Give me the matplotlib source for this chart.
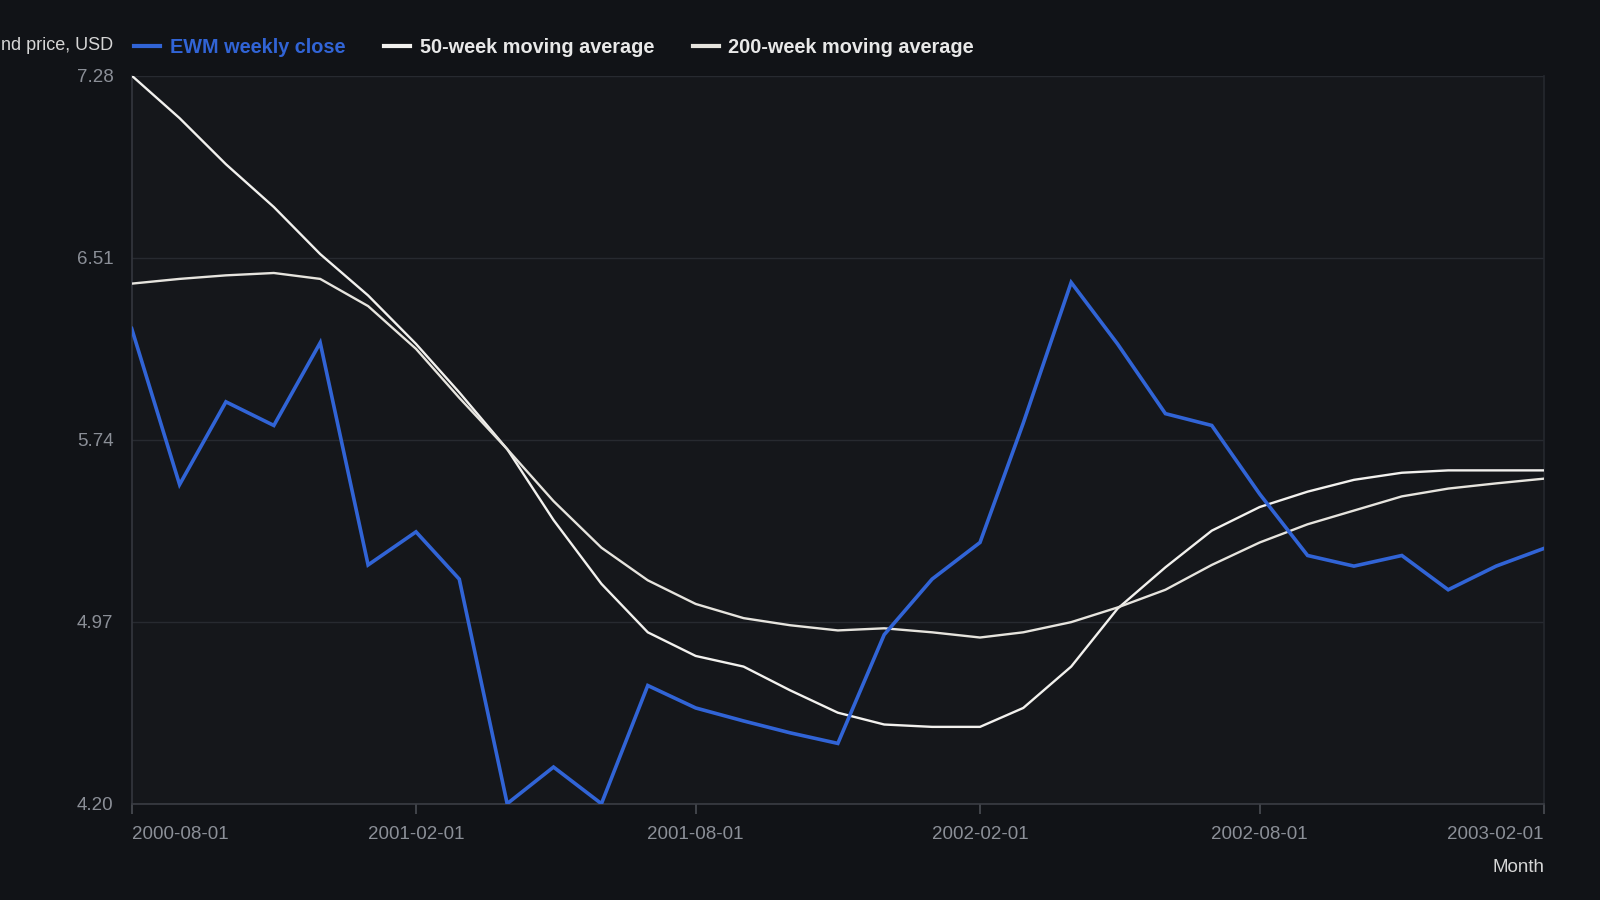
import matplotlib
matplotlib.use("Agg")
import matplotlib.pyplot as plt
import pandas as pd

months = pd.date_range("2000-08-01", "2003-02-01", freq="MS")

ewm_close = [6.21, 5.55, 5.90, 5.80, 6.15, 5.21, 5.35, 5.15, 4.20, 4.355, 4.20,
             4.70, 4.605, 4.55, 4.50, 4.455, 4.915, 5.15, 5.305, 5.81, 6.405,
             6.145, 5.85, 5.80, 5.51, 5.25, 5.205, 5.25, 5.105, 5.205, 5.28]
ma50 = [7.28, 7.10, 6.905, 6.724, 6.525, 6.35, 6.145, 5.94, 5.70, 5.40, 5.13,
        4.925, 4.825, 4.78, 4.68, 4.585, 4.535, 4.525, 4.525, 4.605, 4.78,
        5.025, 5.20, 5.355, 5.455, 5.52, 5.57, 5.60, 5.61, 5.61, 5.61]
ma200 = [6.40, 6.42, 6.435, 6.445, 6.42, 6.305, 6.124, 5.917, 5.70, 5.48, 5.283,
         5.145, 5.045, 4.985, 4.955, 4.933, 4.942, 4.925, 4.903, 4.925, 4.968,
         5.03, 5.105, 5.21, 5.305, 5.382, 5.44, 5.50, 5.533, 5.555, 5.575]

y_ticks = [4.20, 4.97, 5.74, 6.51, 7.28]
x_tick_labels = ["2000-08-01", "2001-02-01", "2001-08-01", "2002-02-01", "2002-08-01", "2003-02-01"]

BG = "#111317"
PLOT_BG = "#15171b"
GRID = "#272a30"
TICK = "#8b8f97"
BLUE = "#3164d6"

plt.rcParams["font.family"] = ["Liberation Sans", "DejaVu Sans"]

fig = plt.figure(figsize=(16, 9), dpi=100, facecolor=BG)
ax = fig.add_axes([0.0823, 0.107, 0.965 - 0.0823, 0.916 - 0.107])
ax.set_facecolor(PLOT_BG)

l1, = ax.plot(months, ewm_close, color=BLUE, lw=2.6, solid_joinstyle="miter", zorder=4,
              label="EWM weekly close")
l2, = ax.plot(months, ma50, color="#f2f1ee", lw=1.7, zorder=3, label="50-week moving average")
l3, = ax.plot(months, ma200, color="#e6e4de", lw=1.7, zorder=3, label="200-week moving average")

ax.set_xlim(months[0], months[-1])
ax.set_ylim(y_ticks[0], y_ticks[-1])
ax.set_yticks(y_ticks)
ax.set_yticklabels([f"{v:.2f}" for v in y_ticks])

xt = [pd.Timestamp(s) for s in x_tick_labels]
ax.set_xticks(xt)
ax.set_xticklabels(x_tick_labels)
labels = ax.get_xticklabels()
labels[0].set_horizontalalignment("left")
labels[-1].set_horizontalalignment("right")

ax.grid(axis="y", color=GRID, lw=1.0, zorder=0)
ax.grid(axis="x", visible=False)
ax.spines["top"].set_visible(False)
ax.spines["left"].set_color("#34373e")
ax.spines["bottom"].set_color("#3a3d44")
ax.spines["right"].set_color("#25282e")
for s in ax.spines.values():
    s.set_linewidth(1.2)

ax.tick_params(axis="y", length=0, pad=13, labelsize=13.5, labelcolor=TICK)
ax.tick_params(axis="x", length=7, width=1.2, color="#4a4d54", pad=9, labelsize=13.5, labelcolor=TICK)

fig.text(0.0708, 0.949, "Fund price, USD", ha="right", va="center", fontsize=13, color="#d6d6d6")
fig.text(0.965, 0.036, "Month", ha="right", va="center", fontsize=13.5, color="#d6d6d6")

leg = fig.legend(handles=[l1, l2, l3], loc="center left", bbox_to_anchor=(0.0725, 0.947),
                 ncol=3, frameon=False, handlelength=1.3, handletextpad=0.5,
                 columnspacing=1.95, prop={"weight": "bold", "size": 14.3})
for line in leg.get_lines():
    line.set_linewidth(3)
cols = [BLUE, "#e8e8e8", "#e8e8e8"]
for t, c in zip(leg.get_texts(), cols):
    t.set_color(c)

fig.savefig("out.png", dpi=100, facecolor=BG)
